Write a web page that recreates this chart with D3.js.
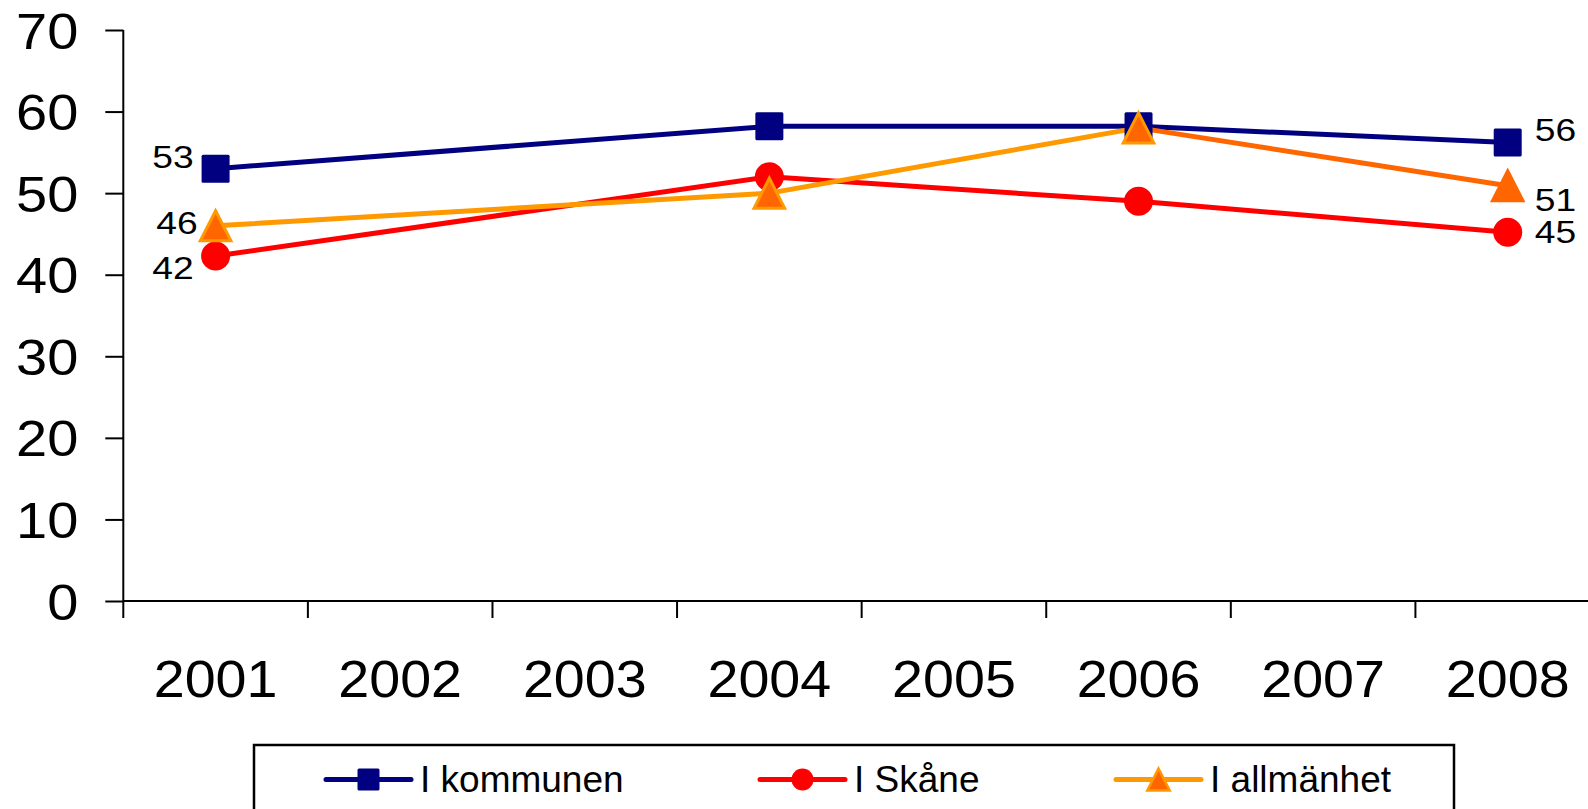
<!DOCTYPE html>
<html><head><meta charset="utf-8">
<script src="https://cdn.jsdelivr.net/npm/d3@7"></script>
<style>
html,body{margin:0;padding:0;background:#fff;}
svg{display:block;font-family:"Liberation Sans",Arial,sans-serif;}
</style></head>
<body>
<svg id="chart" width="1588" height="809"></svg>
<script>
// ---- data ----
const years = ["2001","2002","2003","2004","2005","2006","2007","2008"];
const seriesNames = ["I kommunen","I Skåne","I allmänhet"];
const pointYears = ["2001","2004","2006","2008"];
const kommunen = [53, 58.2, 58.2, 56.2];
const skane = [42.3, 52, 49, 45.2];
const allmanhet = [46, 50, 58, 50.9];
const yTicks = [0,10,20,30,40,50,60,70];
const labelYears = ["2001","2008"];

// ---- styles / layout ----
const styles = [
  {line:"#000080", fill:"#000080", stroke:"#000080", shape:"square"},
  {line:"#FF0000", fill:"#FF0000", stroke:"#FF0000", shape:"circle"},
  {line:"#FF9900", fill:"#FF6600", stroke:"#FF9900", shape:"triangle", lastLine:"#FF6600", lastStroke:"#FF6600"}
];
// label offsets [dx, dy] per series for first and last labels
const labelOffsets = [
  [[-22,-12],[27,-12.5]],
  [[-22,12],[27,0]],
  [[-18,-3],[27,14]]
];
const FONT = "Liberation Sans, Arial, sans-serif";

const svg = d3.select("#chart");
const x = d3.scaleBand().domain(years).range([123.3, 1600]);
const y = d3.scaleLinear().domain([0,70]).range([601,30]);
const cx = d => x(d) + x.bandwidth()/2;

// axes
const g = svg.append("g");
g.append("line").attr("x1",123.3).attr("x2",123.3).attr("y1",y(70)).attr("y2",618)
  .attr("stroke","#000").attr("stroke-width",2);
g.append("line").attr("x1",123.3).attr("x2",1600).attr("y1",y(0)).attr("y2",y(0))
  .attr("stroke","#000").attr("stroke-width",2);
// y ticks
const yAxis = d3.axisLeft(y).tickValues(yTicks).tickSize(18).tickPadding(26);
const ya = svg.append("g").attr("transform","translate(123.3,0)").call(yAxis);
ya.select(".domain").remove();
ya.selectAll(".tick line").attr("stroke","#000").attr("stroke-width",2);
ya.selectAll(".tick text").attr("font-size",50).attr("fill","#000")
  .attr("font-family",FONT).attr("x",0).attr("dy","0.36em")
  .attr("transform","translate(-45,0) scale(1.12,1)");
// x ticks at band boundaries
g.selectAll(".xt").data(years.slice(1)).enter().append("line")
  .attr("x1",d=>x(d)).attr("x2",d=>x(d)).attr("y1",y(0)).attr("y2",618)
  .attr("stroke","#000").attr("stroke-width",2);
const xAxis = d3.axisBottom(x).tickSize(0).tickPadding(0);
const xa = svg.append("g").attr("transform","translate(0,697)").call(xAxis);
xa.select(".domain").remove();
xa.selectAll(".tick text").attr("font-size",52).attr("fill","#000").attr("dy",0)
  .attr("font-family",FONT).attr("transform","scale(1.07,1)");

// series
const allSeries = [kommunen, skane, allmanhet];
const line = d3.line().x(d=>cx(d.year)).y(d=>y(d.value));

function marker(sel, shape, size){
  if(shape==="square"){
    sel.append("rect").attr("x",-size/2).attr("y",-size/2).attr("width",size).attr("height",size).attr("rx",1.5);
  } else if(shape==="circle"){
    sel.append("circle").attr("r",size/2);
  } else {
    const h=size, w=size*1.02;
    sel.append("path").attr("d",`M0,${-h/2}L${w/2},${h/2}L${-w/2},${h/2}Z`).attr("stroke-linejoin","miter");
  }
}

allSeries.forEach((vals,si)=>{
  const st = styles[si];
  const pts = pointYears.map((yr,i)=>({year:yr,value:vals[i]}));
  for(let i=0;i<pts.length-1;i++){
    const col = (i===pts.length-2 && st.lastLine) ? st.lastLine : st.line;
    svg.append("path").attr("d",line([pts[i],pts[i+1]])).attr("fill","none")
      .attr("stroke",col).attr("stroke-width",5).attr("stroke-linecap","round");
  }
});
allSeries.forEach((vals,si)=>{
  const st = styles[si];
  pointYears.forEach((yr,i)=>{
    const m = svg.append("g").attr("transform",`translate(${cx(yr)},${y(vals[i])})`);
    const last = i===pointYears.length-1;
    marker(m, st.shape, st.shape==="triangle"?30:(st.shape==="circle"?29:28));
    m.selectAll("*").attr("fill",st.fill)
      .attr("stroke", last && st.lastStroke ? st.lastStroke : st.stroke)
      .attr("stroke-width", st.shape==="triangle"?3:0);
  });
  labelYears.forEach((yr,k)=>{
    const i = pointYears.indexOf(yr);
    const [dx,dy] = labelOffsets[si][k];
    svg.append("text")
      .attr("transform",`translate(${cx(yr)+dx},${y(vals[i])+dy}) scale(1.2,1)`)
      .attr("dy","0.36em")
      .attr("text-anchor",k===0?"end":"start").attr("font-size",31).attr("fill","#000")
      .text(d3.format(".0f")(vals[i]));
  });
});

// legend
const lg = svg.append("g");
lg.append("rect").attr("x",254).attr("y",745).attr("width",1200).attr("height",80)
  .attr("fill","#fff").attr("stroke","#000").attr("stroke-width",2.5);
const legendX = [326, 760, 1116];
seriesNames.forEach((name,si)=>{
  const st = styles[si];
  const lx = legendX[si], ly = 779.5;
  lg.append("line").attr("x1",lx).attr("x2",lx+85).attr("y1",ly).attr("y2",ly)
    .attr("stroke",st.line).attr("stroke-width",5).attr("stroke-linecap","round");
  const m = lg.append("g").attr("transform",`translate(${lx+42.5},${ly})`);
  marker(m, st.shape, 22);
  m.selectAll("*").attr("fill",st.fill).attr("stroke",st.stroke)
    .attr("stroke-width",st.shape==="triangle"?2.5:0);
  lg.append("text").attr("x",lx+94).attr("y",791.5).attr("font-size",37).attr("fill","#000")
    .text(name);
});
</script>
</body></html>
